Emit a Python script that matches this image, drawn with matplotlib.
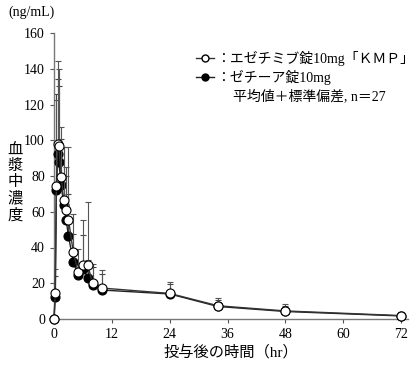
import matplotlib
matplotlib.use("Agg")
import matplotlib.pyplot as plt
from matplotlib.lines import Line2D

plt.rcParams['font.family'] = ['Liberation Serif', 'Noto Sans CJK JP', 'DejaVu Sans']

# Data
time_hr = [0, 0.25, 0.5, 0.75, 1, 1.5, 2, 2.5, 3, 4, 5, 6, 7, 8, 10, 24, 34, 48, 72]
kmp_mean = [0, 14.3, 74.5, 98.0, 97.0, 79.3, 66.5, 61.2, 55.6, 37.4, 26.2, 30.3, 30.3, 19.9, 17.3, 14.3, 7.4, 4.5, 1.9]
kmp_upper = [0, 28.2, 122.5, 144.6, 139.7, 107.6, 96.4, 85.0, 96.4, 58.9, 39.4, 55.6, 65.4, 31.0, 27.3, 20.8, 11.5, 8.2, 4.1]
zetia_mean = [0, 12.1, 72.0, 92.3, 87.7, 75.2, 63.5, 55.6, 46.5, 31.9, 24.6, 27.8, 23.2, 19.2, 16.2, 14.0, 7.0, 4.2, 1.7]
zetia_upper = [0, 24.0, 125.8, 134.2, 130.2, 100.7, 96.0, 80.0, 70.0, 47.8, 28.2, 47.0, 33.0, 29.0, 25.0, 19.5, 10.5, 7.5, 3.8]

xticks = [0, 12, 24, 36, 48, 60, 72]
yticks = [0, 20, 40, 60, 80, 100, 120, 140, 160]

fig = plt.figure(figsize=(4.18, 3.65), dpi=100)
ax = fig.add_axes([54/418, 1-319/365, (408-54)/418, (319-33)/365])

kmp_sd = [u - m for u, m in zip(kmp_upper, kmp_mean)]
zet_sd = [u - m for u, m in zip(zetia_upper, zetia_mean)]

# Filled series (ゼチーア)
ax.errorbar(time_hr, zetia_mean, yerr=[[0]*len(zet_sd), zet_sd], fmt='none',
            ecolor='#444444', elinewidth=0.8, capsize=2, capthick=0.8, zorder=2)
ax.plot(time_hr, zetia_mean, '-', color='#222222', lw=1.0, marker='o', ms=6.5,
        mfc='black', mec='black', mew=0.8, zorder=3, clip_on=False)
# Open series (KMP)
ax.errorbar(time_hr, kmp_mean, yerr=[[0]*len(kmp_sd), kmp_sd], fmt='none',
            ecolor='#555555', elinewidth=0.8, capsize=2, capthick=0.8, zorder=4)
ax.plot(time_hr, kmp_mean, '-', color='#333333', lw=1.0, marker='o', ms=6.5,
        mfc='white', mec='black', mew=0.8, zorder=5, clip_on=False)

ax.set_xlim(0, 73.4)
ax.set_ylim(0, 160)
ax.set_xticks(xticks)
ax.set_yticks(yticks)
ax.tick_params(labelsize=10, length=3, width=0.8, color='#555555', direction='out')
for s in ['top', 'right']:
    ax.spines[s].set_visible(False)
for s in ['left', 'bottom']:
    ax.spines[s].set_color('#777777')
    ax.spines[s].set_linewidth(1.0)

ax.set_xlabel('投与後の時間（hr）', fontsize=11, labelpad=3)
fig.text(8/418, 1-12/365, '(ng/mL)', fontsize=10, ha='left', va='center')
fig.text(15/418, 1-182/365, '血\n漿\n中\n濃\n度', fontsize=11, ha='center', va='center',
         linespacing=0.95, family=['Noto Sans CJK JP'])

# Legend (manual)
lx0, lx1 = 196/418, 214/418
y1, y2, y3 = 1-58/365, 1-77/365, 1-96/365
fig.add_artist(Line2D([lx0, (lx0+lx1)/2, lx1], [y1, y1, y1], transform=fig.transFigure, color='#333333', lw=1.0,
                      marker='o', markevery=[1], ms=5, mfc='white', mec='black'))
fig.add_artist(Line2D([lx0, (lx0+lx1)/2, lx1], [y2, y2, y2], transform=fig.transFigure, color='#222222', lw=1.0,
                      marker='o', markevery=[1], ms=5, mfc='black', mec='black'))
fig.text(216/418, y1, '：エゼチミブ錠10mg「ＫＭＰ」', fontsize=10, ha='left', va='center')
fig.text(216/418, y2, '：ゼチーア錠10mg', fontsize=10, ha='left', va='center')
fig.text(233/418, y3, '平均値＋標準偏差, n＝27', fontsize=10, ha='left', va='center')

fig.savefig('out.png', dpi=100)
